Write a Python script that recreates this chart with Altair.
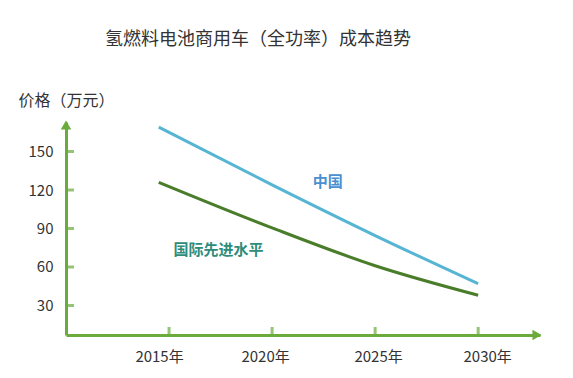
import altair as alt
import pandas as pd

years = [2014.5, 2020, 2025, 2030]
china = [169, 124, 84.5, 47]
intl = [126, 90.5, 61, 38]

x_ticks = [2015, 2020, 2025, 2030]
y_ticks = [30, 60, 90, 120, 150]
x_domain = [2010, 2033]
y_domain = [7, 173]

label_names = ["中国", "国际先进水平"]
label_years = [2022.7, 2017.4]
label_vals = [126, 73.5]
label_colors = ["#4a8fcf", "#2e8c7a"]

FONT = "Noto Sans CJK SC"
GREEN = "#6aab3c"

df = pd.DataFrame({
    "year": years * 2,
    "value": china + intl,
    "series": ["中国"] * len(years) + ["国际先进水平"] * len(years),
})

xs = alt.Scale(domain=x_domain, nice=False, zero=False)
ys = alt.Scale(domain=y_domain, nice=False, zero=False)

base = alt.Chart(df)

x_label_offset = {
    "condition": [
        {"test": "datum.value == 2015", "value": -10},
        {"test": "datum.value == 2020", "value": -7},
        {"test": "datum.value == 2025", "value": 3},
        {"test": "datum.value == 2030", "value": 9},
    ],
    "value": 0,
}

lines = base.mark_line(strokeWidth=3, interpolate="monotone", clip=False).encode(
    x=alt.X("year:Q", scale=xs, axis=alt.Axis(
        values=x_ticks, ticks=False, grid=False, title=None,
        domainColor=GREEN, domainWidth=3,
        labelExpr="datum.value + '年'", labelFont=FONT, labelFontSize=15,
        labelColor="#333333", labelPadding=14, labelOffset=x_label_offset)),
    y=alt.Y("value:Q", scale=ys, axis=alt.Axis(
        values=y_ticks, ticks=False, grid=False,
        domainColor=GREEN, domainWidth=3,
        labelFont=FONT, labelFontSize=15, labelColor="#333333", labelPadding=13,
        title="价格（万元）", titleAngle=0, titleX=-48, titleY=-22,
        titleAlign="left", titleBaseline="middle", titleFont=FONT,
        titleFontSize=16, titleFontWeight="normal", titleColor="#333333")),
    color=alt.Color("series:N", scale=alt.Scale(domain=["中国", "国际先进水平"],
                                                range=["#56b5d4", "#4a7d2a"]), legend=None),
)

ytick_df = pd.DataFrame({"year": [x_domain[0]] * len(y_ticks), "value": y_ticks})
yticks = alt.Chart(ytick_df).mark_tick(orient="horizontal", size=8, thickness=3,
                                       color=GREEN, xOffset=4).encode(
    x=alt.X("year:Q", scale=xs), y=alt.Y("value:Q", scale=ys))

xtick_df = pd.DataFrame({"year": x_ticks, "value": [y_domain[0]] * len(x_ticks)})
xticks = alt.Chart(xtick_df).mark_tick(orient="vertical", size=8, thickness=3,
                                       color=GREEN, yOffset=-4).encode(
    x=alt.X("year:Q", scale=xs), y=alt.Y("value:Q", scale=ys))

arrow_r = alt.Chart(pd.DataFrame({"year": [x_domain[1]], "value": [y_domain[0]]})).mark_point(
    shape="triangle-right", filled=True, size=110, color=GREEN, opacity=1, xOffset=-3, clip=False
).encode(x=alt.X("year:Q", scale=xs), y=alt.Y("value:Q", scale=ys))

arrow_u = alt.Chart(pd.DataFrame({"year": [x_domain[0]], "value": [y_domain[1]]})).mark_point(
    shape="triangle-up", filled=True, size=110, color=GREEN, opacity=1, yOffset=3, clip=False
).encode(x=alt.X("year:Q", scale=xs), y=alt.Y("value:Q", scale=ys))

lab_df = pd.DataFrame({"name": label_names, "year": label_years, "value": label_vals})
labels = alt.Chart(lab_df).mark_text(font=FONT, fontSize=15, fontWeight="bold").encode(
    x=alt.X("year:Q", scale=xs), y=alt.Y("value:Q", scale=ys), text="name:N",
    color=alt.Color("name:N", scale=alt.Scale(domain=label_names, range=label_colors), legend=None),
)

title = alt.Chart(pd.DataFrame({"t": ["氢燃料电池商用车（全功率）成本趋势"]})).mark_text(
    font=FONT, fontSize=18, color="#333333", align="center", baseline="middle"
).encode(x=alt.value(192), y=alt.value(-82), text="t:N")

chart = alt.layer(lines, yticks, xticks, arrow_r, arrow_u, labels, title).resolve_scale(
    color="independent"
).properties(
    width=474, height=213,
    autosize=alt.AutoSizeParams(type="none"),
    padding={"left": 58, "top": 114, "right": 25, "bottom": 30},
    background="white",
).configure_view(stroke=None)

chart.save("out.html", embed_options={"renderer": "svg", "actions": False})
